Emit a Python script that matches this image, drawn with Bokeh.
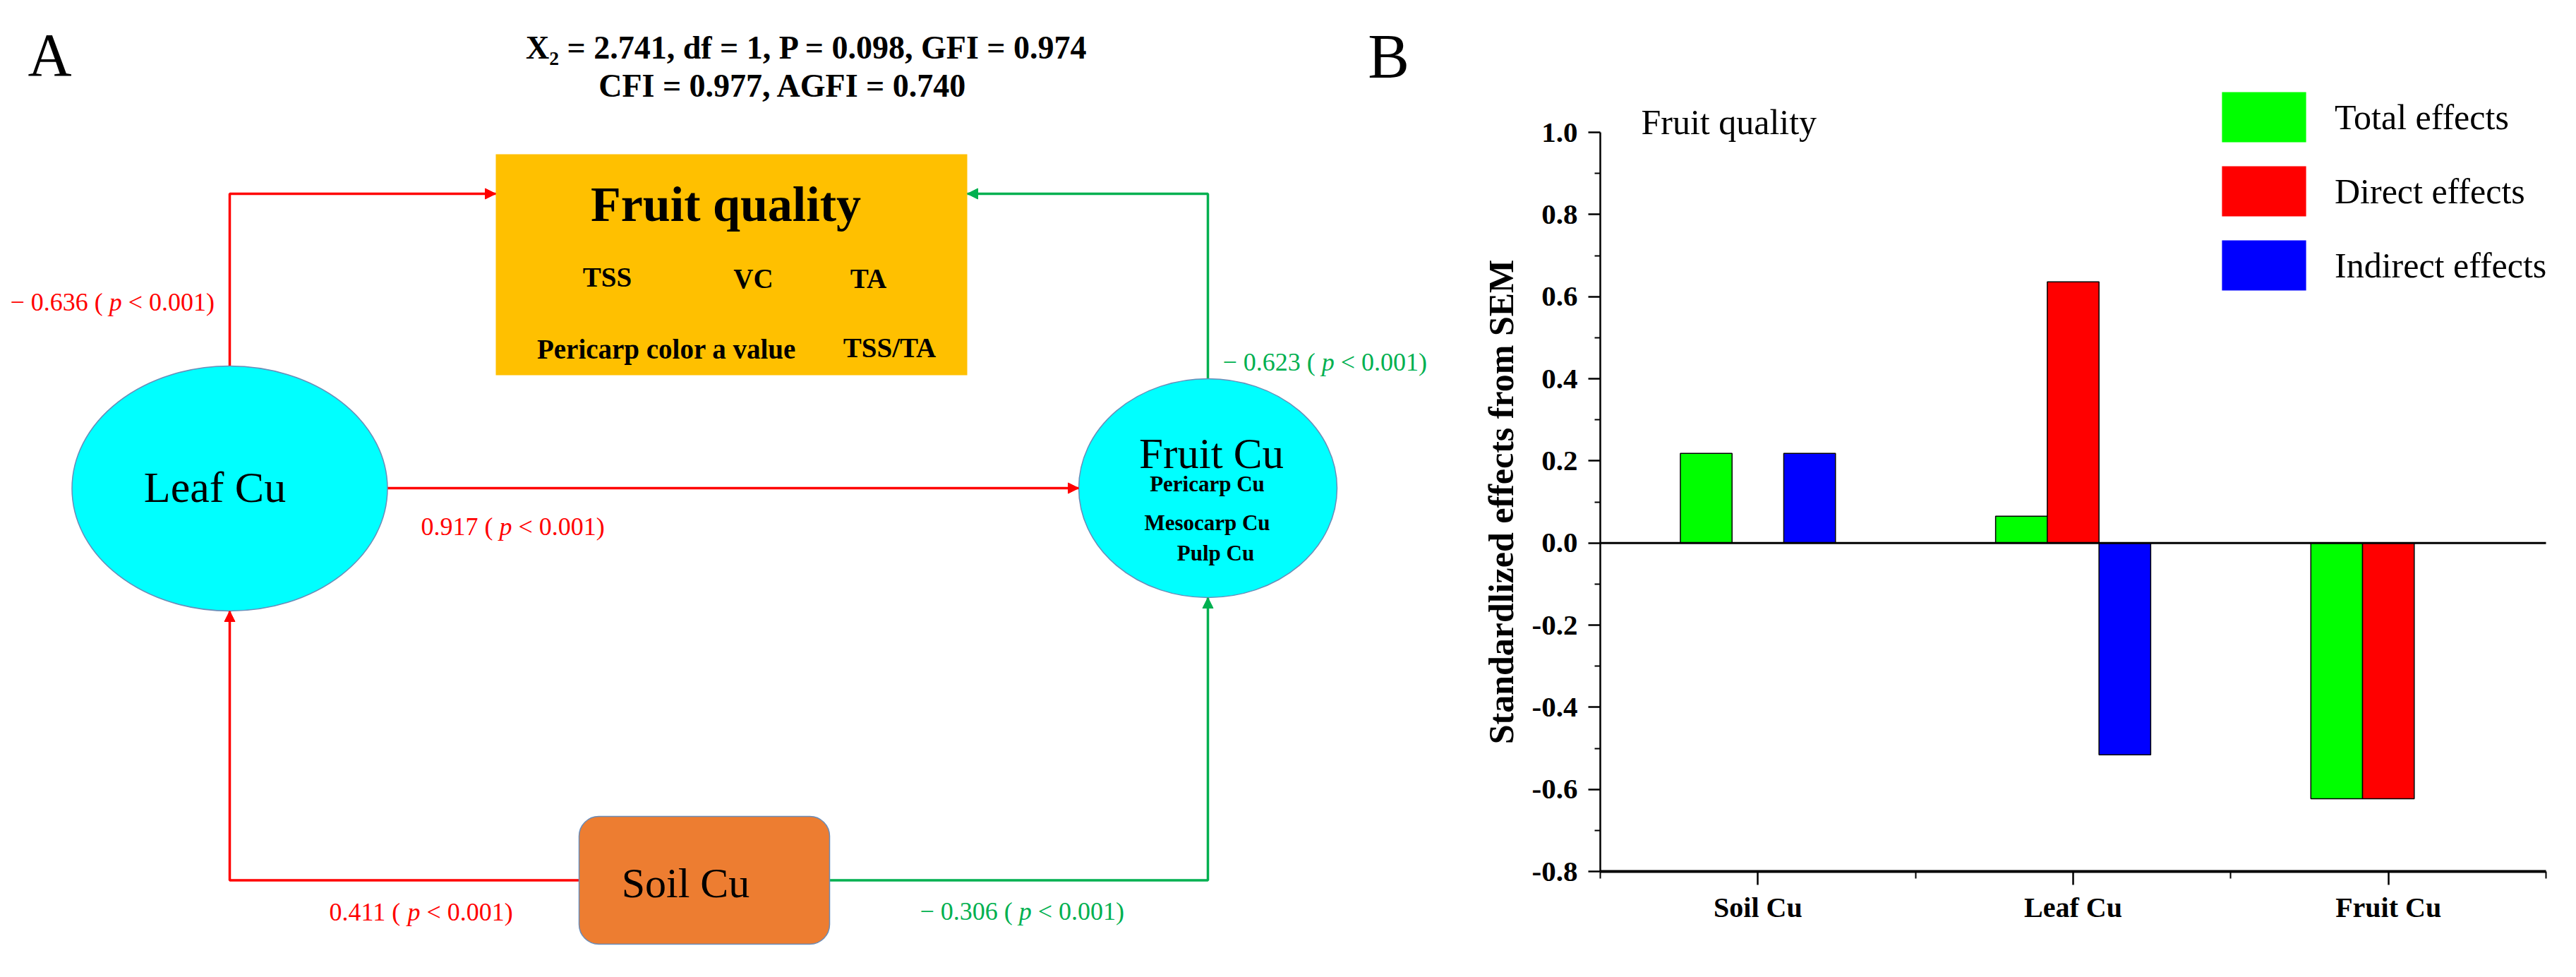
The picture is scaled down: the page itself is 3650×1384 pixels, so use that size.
import numpy as np
from bokeh.plotting import figure
from bokeh.models import (Range1d, ColumnDataSource, Arrow, NormalHead, BoxAnnotation, Label,
                          FixedTicker, NumeralTickFormatter, Legend, LegendItem)
from bokeh.layouts import row
from bokeh.core.properties import value
from bokeh.embed import file_html
from bokeh.resources import INLINE

# ------------------------------------------------------------------ data
fit_line1 = "X\u2082 = 2.741, df = 1, P = 0.098, GFI = 0.974"
fit_line2 = "CFI = 0.977, AGFI = 0.740"
fq_title = "Fruit quality"
fq_indicators = ["TSS", "VC", "TA", "Pericarp color a value", "TSS/TA"]
fruit_cu_indicators = ["Pericarp Cu", "Mesocarp Cu", "Pulp Cu"]
node_names = ["Fruit quality", "Leaf Cu", "Fruit Cu", "Soil Cu"]
path_from = ["Leaf Cu", "Leaf Cu", "Soil Cu", "Soil Cu", "Fruit Cu"]
path_to = ["Fruit quality", "Fruit Cu", "Leaf Cu", "Fruit Cu", "Fruit quality"]
path_coef = [-0.636, 0.917, 0.411, -0.306, -0.623]
path_p = ["0.001", "0.001", "0.001", "0.001", "0.001"]

categories = ["Soil Cu", "Leaf Cu", "Fruit Cu"]
total_effects = [0.218, 0.065, -0.623]
direct_effects = [0.0, 0.636, -0.623]
indirect_effects = [0.218, -0.516, 0.0]
series_names = ["Total effects", "Direct effects", "Indirect effects"]
panel_b_title = "Fruit quality"
y_axis_title = "Standardlized effects from SEM"
y_lo, y_hi = -0.8, 1.0

# ------------------------------------------------------------------ style / layout
SERIF = "Liberation Serif"
RED = "#FF0000"
GREEN = "#00B050"
CYAN = "#00FFFF"
GOLD = "#FFC000"
ORANGE = "#ED7D31"
EDGE = "#6A8CB8"

NODES = {
    "Fruit quality": dict(cx=1044, cy=382.5, w=668, h=313),
    "Leaf Cu": dict(cx=333, cy=699.5, w=447, h=347),
    "Fruit Cu": dict(cx=1719, cy=699, w=366, h=310),
    "Soil Cu": dict(cx=1005.5, cy=1254.5, w=355, h=181),
}
TOP_Y = 282
PATH_COLORS = [RED, RED, RED, GREEN, GREEN]
LABEL_POS = [(22, 435), (604, 753), (474, 1299), (1311, 1298), (1740, 520)]
LABEL_FS = 36

W_A = 2040
H = 1368
PAGE0 = 8

pA = figure(width=W_A, height=H, x_range=Range1d(PAGE0, PAGE0 + W_A),
            y_range=Range1d(PAGE0 + H, PAGE0),
            output_backend="svg", toolbar_location=None, min_border=0,
            x_axis_location=None, y_axis_location=None, outline_line_color=None)
pA.grid.grid_line_color = None
pA.title.visible = False


def edge(n, side):
    d = NODES[n]
    if side == "left":
        return d["cx"] - d["w"] / 2, d["cy"]
    if side == "right":
        return d["cx"] + d["w"] / 2, d["cy"]
    if side == "top":
        return d["cx"], d["cy"] - d["h"] / 2
    return d["cx"], d["cy"] + d["h"] / 2


def route(src, dst):
    s, t = NODES[src], NODES[dst]
    if dst == "Fruit quality":
        x0, y0 = edge(src, "top")
        side = "left" if s["cx"] < t["cx"] else "right"
        x2, _ = edge(dst, side)
        return [x0, x0, x2], [y0, TOP_Y, TOP_Y]
    if src == "Soil Cu":
        side = "left" if t["cx"] < s["cx"] else "right"
        x0, y0 = edge(src, side)
        x2, y2 = edge(dst, "bottom")
        return [x0, x2, x2], [y0, y0, y2]
    x0, _ = edge(src, "right")
    x1, _ = edge(dst, "left")
    return [x0, x1], [t["cy"], t["cy"]]


xs, ys = [], []
for f, t in zip(path_from, path_to):
    rx, ry = route(f, t)
    xs.append(rx)
    ys.append(ry)
pA.multi_line(xs=xs, ys=ys, line_color=PATH_COLORS, line_width=3.5)
for rx, ry, c in zip(xs, ys, PATH_COLORS):
    dx = np.sign(rx[-1] - rx[-2])
    dy = np.sign(ry[-1] - ry[-2])
    pA.add_layout(Arrow(end=NormalHead(size=15, fill_color=c, line_color=c, line_width=1),
                        x_start=rx[-1] - dx * 20, y_start=ry[-1] - dy * 20,
                        x_end=rx[-1], y_end=ry[-1], line_alpha=0, line_width=0))

fq = NODES["Fruit quality"]
pA.quad(left=[fq["cx"] - fq["w"] / 2], right=[fq["cx"] + fq["w"] / 2],
        top=[fq["cy"] - fq["h"] / 2], bottom=[fq["cy"] + fq["h"] / 2],
        fill_color=GOLD, line_color=None)
for n in ["Leaf Cu", "Fruit Cu"]:
    d = NODES[n]
    pA.ellipse(x=[d["cx"]], y=[d["cy"]], width=[d["w"]], height=[d["h"]],
               fill_color=CYAN, line_color=EDGE, line_width=1.5)

CW = {c: 0.5 for c in "0123456789"}
CW.update({".": 0.25, " ": 0.25, "(": 0.333, ")": 0.333, "<": 0.564, "\u2212": 0.564})


def tw(s):
    return sum(CW.get(ch, 0.5) for ch in s) * LABEL_FS


pre_x, pre_y, pre_t, p_x, suf_x, suf_t = [], [], [], [], [], []
for coef, pv, (lx, ly) in zip(path_coef, path_p, LABEL_POS):
    pre = ("\u2212 " if coef < 0 else "") + f"{abs(coef):.3f} ("
    suf = f"< {pv})"
    pre_x.append(lx)
    pre_y.append(ly)
    pre_t.append(pre)
    px = lx + tw(pre) + tw(" ")
    p_x.append(px)
    suf_x.append(px + 0.5 * LABEL_FS + tw(" "))
    suf_t.append(suf)
lab_src = ColumnDataSource(dict(px=pre_x, y=pre_y, pt=pre_t, ix=p_x, sx=suf_x, st=suf_t,
                                c=PATH_COLORS, it=["p"] * len(pre_t)))
common = dict(text_font=value(SERIF), text_font_size=value(f"{LABEL_FS}px"),
              text_baseline="middle", text_align="left", text_color="c", source=lab_src)
pA.text(x="px", y="y", text="pt", **common)
pA.text(x="ix", y="y", text="it", text_font_style="italic", **common)
pA.text(x="sx", y="y", text="st", **common)


def put(x, y, t, size, style="normal", align="center", baseline="middle"):
    pA.text(x=[x], y=[y], text=[t], text_font=value(SERIF), text_font_size=value(f"{size}px"),
            text_font_style=style, text_align=align, text_baseline=baseline, text_color="black")


put(78, 85, "A", 86, baseline="alphabetic")
put(1975, 87, "B", 88, baseline="alphabetic")
put(1151, 75, fit_line1, 46, "bold")
put(1117, 129, fit_line2, 46, "bold")
put(1036, 297, fq_title, 70, "bold")
for t, (x, y) in zip(fq_indicators, [(868, 400), (1075, 402), (1238, 402), (952, 502), (1268, 500)]):
    put(x, y, t, 39, "bold")
put(312, 697, "Leaf Cu", 62)
put(1724, 650, "Fruit Cu", 61)
for t, (x, y) in zip(fruit_cu_indicators, [(1718, 693), (1718, 748), (1730, 791)]):
    put(x, y, t, 31, "bold")

sd = NODES["Soil Cu"]
pA.add_layout(BoxAnnotation(left=sd["cx"] - sd["w"] / 2, right=sd["cx"] + sd["w"] / 2,
                            top=sd["cy"] - sd["h"] / 2, bottom=sd["cy"] + sd["h"] / 2,
                            fill_color=ORANGE, fill_alpha=1.0, line_color=EDGE, line_alpha=1.0,
                            line_width=1.5, border_radius=28))
pA.add_layout(Label(x=979, y=1258, text="Soil Cu", text_align="center", text_baseline="middle",
                    text_font=SERIF, text_font_size="60px", text_color="black"))

# ------------------------------------------------------------------ panel B
W_B = 3634 - W_A
B_LEFT = PAGE0 + W_A           # page x of panel B's left edge
F_L, F_R, F_T, F_B = 2275, 3615, 195, 1242   # page px of the axes box
n_cat = len(categories)
ppx = (F_R - F_L) / n_cat
ppy = (F_B - F_T) / (y_hi - y_lo)


def bx(px):
    return 0.5 + (px - F_L) / ppx


def by(py):
    return y_hi - (py - F_T) / ppy


pB = figure(width=W_B, height=H,
            x_range=Range1d(bx(B_LEFT), bx(B_LEFT + W_B)),
            y_range=Range1d(by(PAGE0 + H), by(PAGE0)),
            output_backend="svg", toolbar_location=None, min_border=0,
            outline_line_color=None)
pB.grid.grid_line_color = None
pB.title.visible = False

BAR_W = 0.164
series = [total_effects, direct_effects, indirect_effects]
colors = ["#00FF00", "#FF0000", "#0000FF"]
offsets = [-BAR_W, 0.0, BAR_W]
for vals, col, off in zip(series, colors, offsets):
    xsb = [i + 1 + off for i, v in enumerate(vals) if v != 0]
    tops = [v for v in vals if v != 0]
    pB.vbar(x=xsb, top=tops, bottom=0, width=BAR_W, fill_color=col, line_color="black",
            line_width=1.5)

pB.segment(x0=[0.5], y0=[0], x1=[n_cat + 0.5], y1=[0], line_color="black", line_width=3)

yt = [round(v, 1) for v in np.arange(y_lo, y_hi + 0.01, 0.2)]
ym = [round(v, 1) for v in np.arange(y_lo + 0.1, y_hi, 0.2)]
pB.yaxis.ticker = FixedTicker(ticks=yt, minor_ticks=ym)
pB.yaxis.formatter = NumeralTickFormatter(format="0.0")
pB.yaxis.fixed_location = 0.5
pB.yaxis.bounds = (y_lo, y_hi)
pB.xaxis.ticker = FixedTicker(ticks=list(range(1, n_cat + 1)),
                              minor_ticks=[i + 0.5 for i in range(n_cat + 1)])
pB.xaxis.major_label_overrides = {i + 1: c for i, c in enumerate(categories)}
pB.xaxis.fixed_location = y_lo
pB.xaxis.bounds = (0.5, n_cat + 0.5)

for ax in (pB.xaxis, pB.yaxis):
    ax.axis_line_color = "black"
    ax.major_tick_line_color = "black"
    ax.minor_tick_line_color = "black"
    ax.major_tick_in = 0
    ax.minor_tick_in = 0
    ax.major_label_text_font = SERIF
    ax.major_label_text_font_style = "bold"
    ax.major_label_text_color = "black"

pB.yaxis.axis_line_width = 2.5
pB.yaxis.major_tick_line_width = 2.5
pB.yaxis.minor_tick_line_width = 2
pB.yaxis.major_tick_out = 17
pB.yaxis.minor_tick_out = 8
pB.yaxis.major_label_text_font_size = "41px"
pB.yaxis.major_label_standoff = 15

pB.xaxis.axis_line_width = 4
pB.xaxis.major_tick_line_width = 2.5
pB.xaxis.minor_tick_line_width = 2
pB.xaxis.major_tick_out = 19
pB.xaxis.minor_tick_out = 10
pB.xaxis.major_label_text_font_size = "40px"
pB.xaxis.major_label_standoff = 9

pB.add_layout(Label(x=bx(2134), y=(y_lo + y_hi) / 2, text=y_axis_title, angle=np.pi / 2,
                    text_align="center", text_baseline="middle", text_font=SERIF,
                    text_font_style="bold", text_font_size="50px", text_color="black"))
pB.add_layout(Label(x=bx(2333), y=by(180), text=panel_b_title, text_align="left",
                    text_baseline="middle", text_font=SERIF, text_font_size="50px",
                    text_color="black"))

dummies = [pB.vbar(x=[float("nan")], top=[float("nan")], width=0.1, fill_color=c, line_color=None)
           for c in colors]
legend = Legend(items=[LegendItem(label=n, renderers=[r]) for n, r in zip(series_names, dummies)],
                location=(3141 - B_LEFT, (PAGE0 + H) - 428), glyph_width=149, glyph_height=89,
                spacing=16, label_standoff=26, padding=0, margin=0, border_line_color=None,
                background_fill_alpha=0, label_text_font=SERIF, label_text_font_size="50px",
                label_text_color="black")
pB.add_layout(legend)

layout = row(pA, pB)
open("out.html", "w").write(file_html(layout, INLINE))
